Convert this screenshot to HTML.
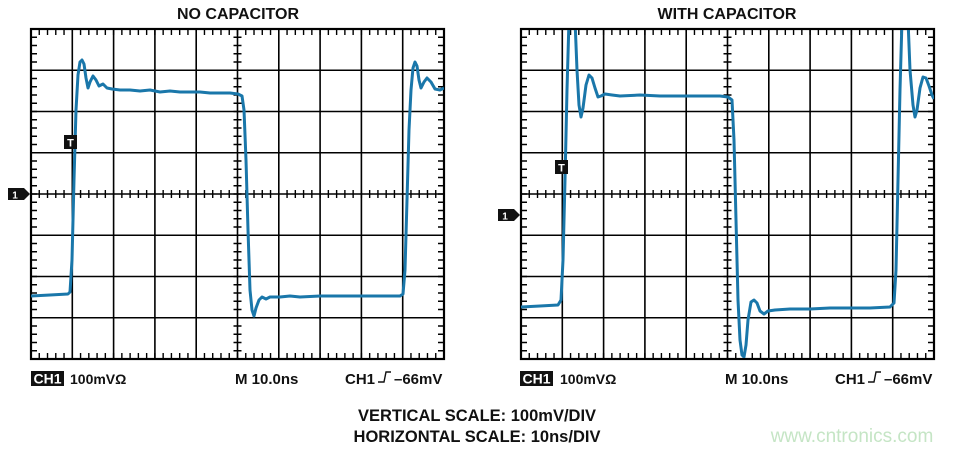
<!DOCTYPE html>
<html><head><meta charset="utf-8"><style>
body{margin:0;background:#fff;width:953px;height:450px;overflow:hidden}
svg{display:block}
text{font-family:"Liberation Sans",Arial,sans-serif;font-weight:bold;fill:#111}
</style></head><body>
<svg width="953" height="450" viewBox="0 0 953 450">
<defs>
<g id="grid">
  <rect x="0" y="0" width="413" height="330" fill="#fff" stroke="#000" stroke-width="2.2"/>
  <g stroke="#000" stroke-width="1.6">
    <line x1="41.3" y1="0" x2="41.3" y2="330"/><line x1="82.6" y1="0" x2="82.6" y2="330"/>
    <line x1="123.9" y1="0" x2="123.9" y2="330"/><line x1="165.2" y1="0" x2="165.2" y2="330"/>
    <line x1="206.5" y1="0" x2="206.5" y2="330"/><line x1="247.8" y1="0" x2="247.8" y2="330"/>
    <line x1="289.1" y1="0" x2="289.1" y2="330"/><line x1="330.4" y1="0" x2="330.4" y2="330"/>
    <line x1="371.7" y1="0" x2="371.7" y2="330"/>
    <line x1="0" y1="41.25" x2="413" y2="41.25"/><line x1="0" y1="82.5" x2="413" y2="82.5"/>
    <line x1="0" y1="123.75" x2="413" y2="123.75"/><line x1="0" y1="165" x2="413" y2="165"/>
    <line x1="0" y1="206.25" x2="413" y2="206.25"/><line x1="0" y1="247.5" x2="413" y2="247.5"/>
    <line x1="0" y1="288.75" x2="413" y2="288.75"/>
  </g>
  <g stroke="#000">
    <line x1="0" y1="3" x2="413" y2="3" stroke-width="6" stroke-dasharray="1.4 6.86" stroke-dashoffset="0.7"/>
    <line x1="0" y1="327" x2="413" y2="327" stroke-width="6" stroke-dasharray="1.4 6.86" stroke-dashoffset="0.7"/>
    <line x1="0" y1="165" x2="413" y2="165" stroke-width="8" stroke-dasharray="1.4 6.86" stroke-dashoffset="0.7"/>
    <line x1="3" y1="0" x2="3" y2="330" stroke-width="6" stroke-dasharray="1.4 6.85" stroke-dashoffset="0.7"/>
    <line x1="410" y1="0" x2="410" y2="330" stroke-width="6" stroke-dasharray="1.4 6.85" stroke-dashoffset="0.7"/>
    <line x1="206.5" y1="0" x2="206.5" y2="330" stroke-width="8" stroke-dasharray="1.4 6.85" stroke-dashoffset="0.7"/>
  </g>
</g>
<clipPath id="cl"><rect x="31" y="30" width="413" height="328"/></clipPath>
<clipPath id="cr"><rect x="521" y="30" width="413" height="328"/></clipPath>
</defs>

<text x="238" y="19" font-size="16" text-anchor="middle">NO CAPACITOR</text>
<text x="727" y="19" font-size="16" text-anchor="middle">WITH CAPACITOR</text>

<use href="#grid" x="31" y="29"/>
<use href="#grid" x="521" y="29"/>

<path clip-path="url(#cl)" fill="none" stroke="#1a77aa" stroke-width="3" stroke-linejoin="round" d="
M31,296 L50,295 L68,294 L70,292 L72,260 L74,180 L76,110 L78,75 L80,62 L82,60 L84,64 L86,78 L88,88 L90,82 L93,76 L96,80 L99,86 L103,84 L107,88 L112,89 L120,90 L130,90 L140,91 L150,90 L160,92 L170,91 L180,92 L190,92 L200,92 L210,93 L220,93 L230,93 L238,94 L242,96 L244,110 L246,160 L248,230 L250,290 L252,310 L254,316 L256,308 L259,300 L262,297 L266,299 L270,297 L280,297 L290,296 L300,297 L320,296 L340,296 L360,296 L380,296 L400,296 L403,294 L405,270 L407,200 L409,130 L411,90 L413,68 L415,62 L417,66 L419,80 L421,88 L424,82 L427,78 L431,82 L435,89 L440,90 L444,88"/>

<path clip-path="url(#cr)" fill="none" stroke="#1a77aa" stroke-width="3" stroke-linejoin="round" d="
M521,307 L540,306 L558,305 L561,300 L563,260 L565,180 L567,90 L569,20 L572,10 L575,20 L577,70 L579,105 L581,117 L583,108 L586,85 L589,75 L592,78 L595,88 L598,97 L601,96 L605,94 L612,95 L620,96 L640,95 L660,96 L680,96 L700,96 L720,96 L728,97 L732,100 L734,140 L736,220 L738,300 L740,340 L742,355 L744,357 L746,345 L748,320 L751,302 L754,300 L757,303 L760,311 L764,314 L768,311 L775,310 L790,309 L810,309 L830,308 L850,308 L870,308 L890,307 L894,303 L896,270 L898,180 L900,90 L902,20 L905,10 L908,20 L910,70 L913,105 L915,117 L917,110 L920,88 L923,77 L926,78 L929,86 L932,95 L934,99"/>

<rect x="64" y="135" width="13" height="14" fill="#111"/>
<text x="70.5" y="146.5" font-size="11" text-anchor="middle" style="fill:#fff">T</text>
<rect x="555" y="160" width="13" height="14" fill="#111"/>
<text x="561.5" y="171.5" font-size="11" text-anchor="middle" style="fill:#fff">T</text>
<path d="M8,188 L24,188 L30,194 L24,200 L8,200 Z" fill="#111"/>
<text x="15" y="198.5" font-size="10" text-anchor="middle" style="fill:#fff">1</text>
<path d="M498,209 L514,209 L520,215 L514,221 L498,221 Z" fill="#111"/>
<text x="505" y="219.5" font-size="10" text-anchor="middle" style="fill:#fff">1</text>

<rect x="31" y="371" width="33" height="15" fill="#111"/>
<text x="47.5" y="383.5" font-size="14" text-anchor="middle" style="fill:#fff">CH1</text>
<text x="70" y="384" font-size="14">100mVΩ</text>
<text x="235" y="384" font-size="15">M 10.0ns</text>
<text x="345" y="384" font-size="15">CH1</text>
<path d="M378,382 L384,382 L386,372 L391,372" fill="none" stroke="#111" stroke-width="1.4"/>
<text x="394" y="384" font-size="15">–66mV</text>

<rect x="520" y="371" width="33" height="15" fill="#111"/>
<text x="536.5" y="383.5" font-size="14" text-anchor="middle" style="fill:#fff">CH1</text>
<text x="560" y="384" font-size="14">100mVΩ</text>
<text x="725" y="384" font-size="15">M 10.0ns</text>
<text x="835" y="384" font-size="15">CH1</text>
<path d="M868,382 L874,382 L876,372 L881,372" fill="none" stroke="#111" stroke-width="1.4"/>
<text x="884" y="384" font-size="15">–66mV</text>

<text x="477" y="421" font-size="16.5" text-anchor="middle">VERTICAL SCALE: 100mV/DIV</text>
<text x="477" y="442" font-size="16.5" text-anchor="middle">HORIZONTAL SCALE: 10ns/DIV</text>

<text x="852" y="442" font-size="19" text-anchor="middle" style="fill:#c5e5c5;font-weight:normal">www.cntronics.com</text>
</svg>
</body></html>
